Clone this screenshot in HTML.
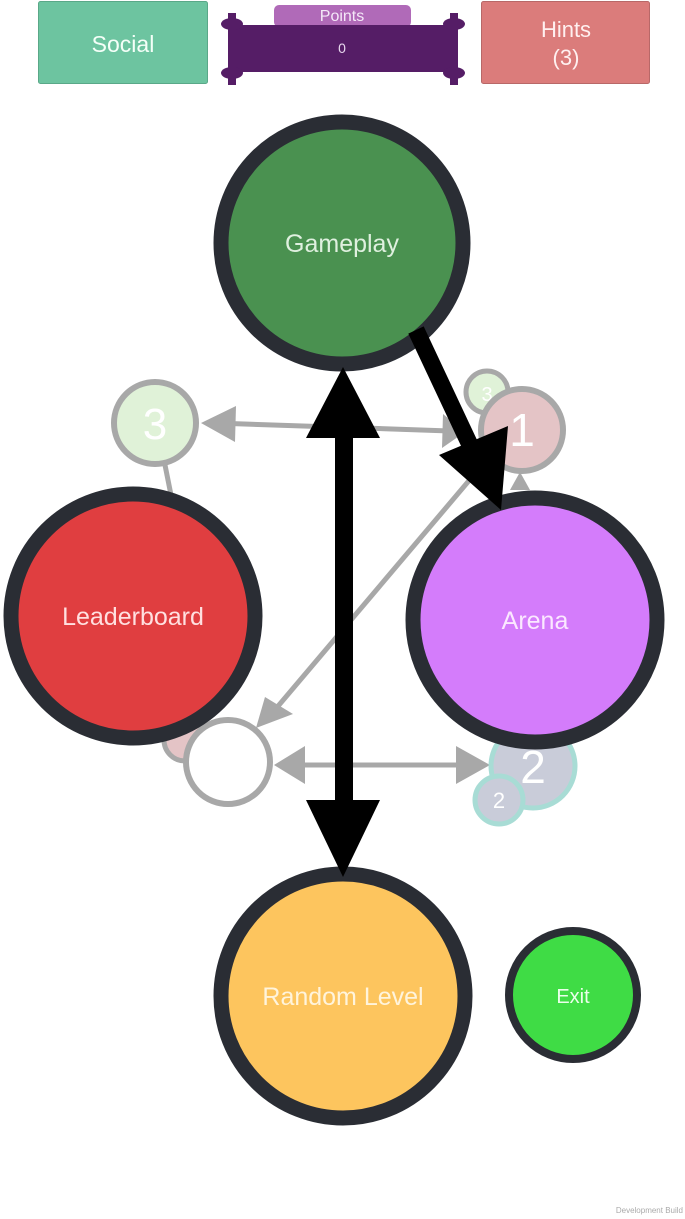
<!DOCTYPE html>
<html><head><meta charset="utf-8"><style>
html,body{margin:0;padding:0;background:#fff;}
body{width:685px;height:1219px;position:relative;overflow:hidden;font-family:"Liberation Sans",sans-serif;}
</style></head><body>
<svg width="685" height="1219" viewBox="0 0 685 1219" xmlns="http://www.w3.org/2000/svg" style="position:absolute;left:0;top:0">
<!-- top bar -->
<rect x="38.5" y="1.5" width="169" height="82" rx="2" fill="#6dc4a0" stroke="#5aa888"/>
<text x="123" y="52" font-size="23" fill="#f4fff8" text-anchor="middle" font-family="Liberation Sans">Social</text>
<rect x="481.5" y="1.5" width="168" height="82" rx="2" fill="#db7c7b" stroke="#b86868"/>
<text x="566" y="37" font-size="22" fill="#fff0f0" text-anchor="middle">Hints</text>
<text x="566" y="65" font-size="22" fill="#fff0f0" text-anchor="middle">(3)</text>
<rect x="274" y="5" width="137" height="22" rx="5" fill="#b06ab8"/>
<text x="342" y="21" font-size="16" fill="#f4e8f8" text-anchor="middle">Points</text>
<rect x="232" y="25" width="222" height="47" fill="#551d66"/>
<g fill="#551d66">
<ellipse cx="232" cy="24" rx="11" ry="6"/><ellipse cx="232" cy="73" rx="11" ry="6"/>
<ellipse cx="454" cy="24" rx="11" ry="6"/><ellipse cx="454" cy="73" rx="11" ry="6"/>
<rect x="228" y="13" width="8" height="72"/><rect x="450" y="13" width="8" height="72"/>
</g>
<text x="342" y="53" font-size="14" fill="#e8d8ee" text-anchor="middle">0</text>

<!-- gray connectors -->
<g stroke="#a8a8a8" stroke-width="5" fill="none">
<line x1="215" y1="423" x2="450" y2="431"/>
<line x1="165" y1="465" x2="172" y2="500"/>
<line x1="478" y1="470" x2="268" y2="718"/>
<line x1="520" y1="478" x2="520" y2="490"/>
<line x1="290" y1="765" x2="475" y2="765"/>
</g>
<g fill="#a8a8a8">
<polygon points="201,423 236,406 235,442"/>
<polygon points="465,432 443,414 442,448"/>
<polygon points="256,728 265,697 293,714"/>
<polygon points="520,472 510,490 530,490"/>
<polygon points="274,765 305,746 305,784"/>
<polygon points="490,765 456,746 456,784"/>
</g>

<!-- small gray nodes -->
<circle cx="155" cy="423" r="41" fill="#e0f2d8" stroke="#a8a8a8" stroke-width="6"/>
<text x="155" y="439" font-size="44" fill="#fff" text-anchor="middle">3</text>
<circle cx="487" cy="392" r="21" fill="#e0f2d8" stroke="#a8a8a8" stroke-width="5"/>
<text x="487" y="401" font-size="20" fill="#fff" text-anchor="middle">3</text>
<circle cx="522" cy="430" r="41" fill="#e4c4c6" stroke="#a8a8a8" stroke-width="6"/>
<text x="522" y="446" font-size="46" fill="#fff" text-anchor="middle">1</text>
<circle cx="185" cy="740" r="21" fill="#e4c4c6" stroke="#a8a8a8" stroke-width="5"/>
<circle cx="228" cy="762" r="42" fill="#fff" stroke="#a8a8a8" stroke-width="6"/>
<circle cx="533" cy="766" r="42" fill="#c9ccd9" stroke="#a8dcd5" stroke-width="5"/>
<text x="533" y="783" font-size="46" fill="#fff" text-anchor="middle">2</text>
<circle cx="499" cy="800" r="24" fill="#c9ccd9" stroke="#a8dcd5" stroke-width="5"/>
<text x="499" y="808" font-size="22" fill="#fff" text-anchor="middle">2</text>

<!-- big nodes -->
<g stroke="#2a2d34" stroke-width="15">
<circle cx="342" cy="243" r="121" fill="#4a9150"/>
<circle cx="133" cy="616" r="122" fill="#e03e40"/>
<circle cx="535" cy="620" r="122" fill="#d47cfb"/>
<circle cx="343" cy="996" r="122" fill="#fdc55e"/>
</g>
<circle cx="573" cy="995" r="64" fill="#3fdc45" stroke="#2a2d34" stroke-width="8"/>
<g font-size="25" text-anchor="middle">
<text x="342" y="252" fill="#dff0df">Gameplay</text>
<text x="133" y="625" fill="#ffe0e0">Leaderboard</text>
<text x="535" y="629" fill="#fbe8ff">Arena</text>
<text x="343" y="1005" fill="#fff4dc">Random Level</text>
<text x="573" y="1003" font-size="20" fill="#eaffea">Exit</text>
</g>

<!-- black arrows -->
<rect x="335" y="430" width="18" height="375" fill="#000"/>
<polygon points="343,367 306,438 380,438" fill="#000"/>
<polygon points="343,877 306,800 380,800" fill="#000"/>
<line x1="416" y1="330" x2="470" y2="445" stroke="#000" stroke-width="17"/>
<polygon points="501,510 439,455 508,426" fill="#000"/>

<text x="683" y="1213" font-size="8" fill="#aaa" text-anchor="end">Development Build</text>
</svg>
</body></html>
